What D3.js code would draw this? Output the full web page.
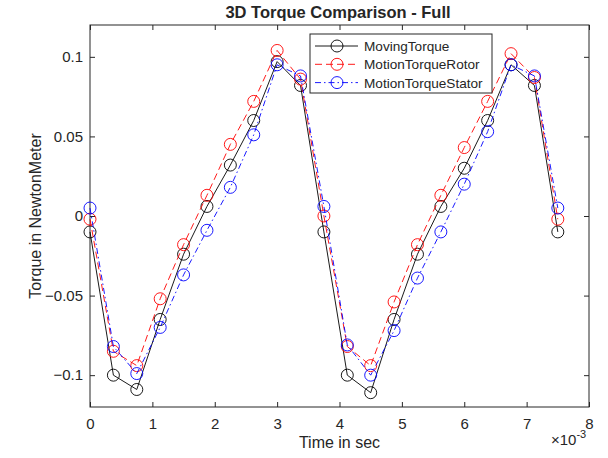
<!DOCTYPE html>
<html>
<head>
<meta charset="utf-8">
<script src="https://cdn.jsdelivr.net/npm/d3@7"></script>
<style>
  body { margin: 0; background: #fff; }
  text { font-family: "Liberation Sans", Arial, sans-serif; fill: #262626; }
</style>
</head>
<body>
<svg id="chart" width="608" height="458"></svg>
<script>
// time axis in units of 1e-3 s
const timeMs = [0, 0.375, 0.75, 1.125, 1.5, 1.875, 2.25, 2.625, 3.0, 3.375, 3.75,
  4.125, 4.5, 4.875, 5.25, 5.625, 6.0, 6.375, 6.75, 7.125, 7.5];

const movingTorque = [-0.010, -0.100, -0.109, -0.065, -0.024, 0.006, 0.032, 0.060, 0.097, 0.082, -0.010,
  -0.100, -0.111, -0.065, -0.024, 0.006, 0.030, 0.060, 0.095, 0.082, -0.010];
const rotorTorque = [-0.002, -0.085, -0.094, -0.052, -0.018, 0.013, 0.045, 0.072, 0.104, 0.086, 0.000,
  -0.082, -0.094, -0.054, -0.018, 0.013, 0.043, 0.072, 0.102, 0.087, -0.002];
const statorTorque = [0.005, -0.082, -0.099, -0.070, -0.037, -0.009, 0.018, 0.051, 0.095, 0.088, 0.006,
  -0.081, -0.100, -0.072, -0.039, -0.010, 0.020, 0.053, 0.095, 0.088, 0.005];

const seriesNames = ["MovingTorque", "MotionTorqueRotor", "MotionTorqueStator"];
const xTicks = [0, 1, 2, 3, 4, 5, 6, 7, 8];
const yTicks = [-0.1, -0.05, 0, 0.05, 0.1];

const series = [
  { name: seriesNames[0], values: movingTorque, color: "#000000", dash: null },
  { name: seriesNames[1], values: rotorTorque, color: "#ff0000", dash: "7,4" },
  { name: seriesNames[2], values: statorTorque, color: "#0000ff", dash: "6,3,1.5,3" }
];

const margin = { top: 25, right: 19, bottom: 51, left: 90 };
const width = 608, height = 458;
const svg = d3.select("#chart");

const x = d3.scaleLinear().domain([0, 8]).range([margin.left, width - margin.right]);
const y = d3.scaleLinear().domain([-0.12, 0.12]).range([height - margin.bottom, margin.top]);

const axisColor = "#262626";
const tickLen = 5;

// plot box
svg.append("rect")
  .attr("x", x(0)).attr("y", y(0.12))
  .attr("width", x(8) - x(0)).attr("height", y(-0.12) - y(0.12))
  .attr("fill", "#fff").attr("stroke", axisColor).attr("stroke-width", 1);

// bottom axis
const xAxis = svg.append("g")
  .attr("transform", `translate(0,${y(-0.12)})`)
  .call(d3.axisBottom(x).tickValues(xTicks).tickSize(-tickLen).tickPadding(11).tickFormat(d3.format("d")));
// top ticks
const xAxisTop = svg.append("g")
  .attr("transform", `translate(0,${y(0.12)})`)
  .call(d3.axisTop(x).tickValues(xTicks).tickSize(-tickLen).tickFormat(""));
// left axis
const yAxis = svg.append("g")
  .attr("transform", `translate(${x(0)},0)`)
  .call(d3.axisLeft(y).tickValues(yTicks).tickSize(-tickLen).tickPadding(7)
    .tickFormat(d => d === 0 ? "0" : d3.format("")(+d.toFixed(2))));
// right ticks
const yAxisRight = svg.append("g")
  .attr("transform", `translate(${x(8)},0)`)
  .call(d3.axisRight(y).tickValues(yTicks).tickSize(-tickLen).tickFormat(""));

[xAxis, xAxisTop, yAxis, yAxisRight].forEach(g => {
  g.select(".domain").remove();
  g.selectAll(".tick line").attr("stroke", axisColor);
  g.selectAll(".tick text").attr("font-size", 15).attr("font-family", null).attr("fill", axisColor);
});

// lines + markers
const line = d3.line().x((d, i) => x(timeMs[i])).y(d => y(d));

series.forEach(s => {
  svg.append("path")
    .attr("d", line(s.values))
    .attr("fill", "none")
    .attr("stroke", s.color)
    .attr("stroke-width", 0.9)
    .attr("stroke-dasharray", s.dash);
  svg.append("g").selectAll("circle")
    .data(s.values)
    .join("circle")
    .attr("cx", (d, i) => x(timeMs[i]))
    .attr("cy", d => y(d))
    .attr("r", 6)
    .attr("fill", "none")
    .attr("stroke", s.color)
    .attr("stroke-width", 0.9);
});

// title and labels
svg.append("text")
  .attr("x", 338).attr("y", 18)
  .attr("text-anchor", "middle")
  .attr("font-size", 16.5).attr("font-weight", "bold")
  .attr("fill", "#000")
  .text("3D Torque Comparison - Full");

svg.append("text")
  .attr("x", (x(0) + x(8)) / 2).attr("y", 448)
  .attr("text-anchor", "middle")
  .attr("font-size", 16)
  .text("Time in sec");

svg.append("text")
  .attr("transform", `translate(41,${(y(0.12) + y(-0.12)) / 2}) rotate(-90)`)
  .attr("text-anchor", "middle")
  .attr("font-size", 16)
  .text("Torque in NewtonMeter");

// exponent label
const expo = svg.append("text")
  .attr("x", 551).attr("y", 445)
  .attr("font-size", 15);
expo.append("tspan").text("\u00d710");
expo.append("tspan").attr("dy", -7).attr("font-size", 11).text("-3");

// legend
const legend = svg.append("g").attr("transform", "translate(310,34)");
legend.append("rect")
  .attr("width", 182).attr("height", 59)
  .attr("fill", "#fff").attr("stroke", axisColor).attr("stroke-width", 1);
series.forEach((s, i) => {
  const row = legend.append("g").attr("transform", `translate(0,${12 + i * 18.3})`);
  row.append("line")
    .attr("x1", 5).attr("x2", 48).attr("y1", 0).attr("y2", 0)
    .attr("stroke", s.color).attr("stroke-width", 0.9)
    .attr("stroke-dasharray", s.dash);
  row.append("circle")
    .attr("cx", 27).attr("cy", 0).attr("r", 6)
    .attr("fill", "none").attr("stroke", s.color).attr("stroke-width", 0.9);
  row.append("text")
    .attr("x", 54).attr("y", 5)
    .attr("font-size", 13.6).attr("fill", "#000")
    .text(s.name);
});
</script>
</body>
</html>
